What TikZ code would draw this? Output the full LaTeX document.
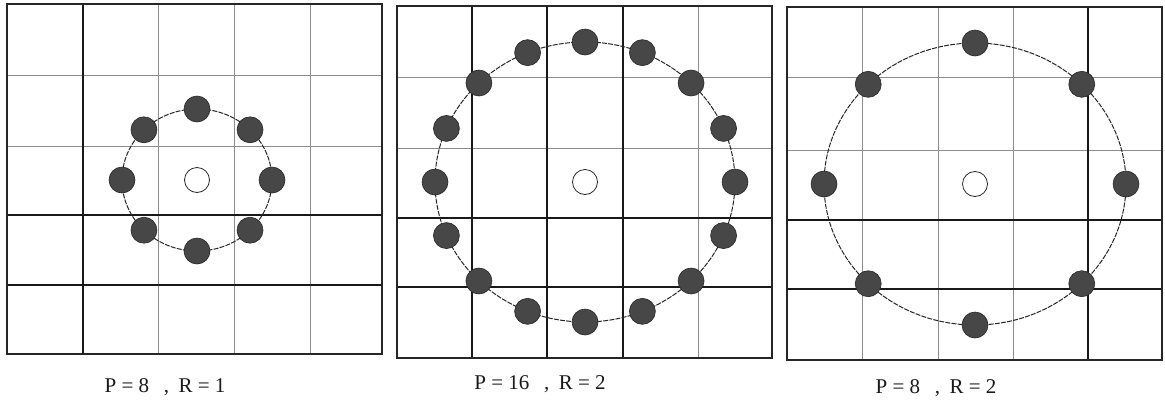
\documentclass[tikz,border=0pt]{standalone}
\usepackage{fontspec}
\setmainfont{Liberation Serif}
\begin{document}
\begin{tikzpicture}[x=1pt,y=-1pt,
  thin grid/.style={draw=black!45,line width=0.7pt},
  bold grid/.style={draw=black!90,line width=1.4pt},
  frame/.style={draw=black!85,line width=1.2pt},
  sample/.style={draw=black!85,line width=1pt,dash pattern=on 5pt off 1.2pt},
  dot/.style={circle,fill=black!72,draw=black!85,line width=0.6pt,minimum size=26pt,inner sep=0pt},
  centre/.style={circle,fill=white,draw=black!85,line width=0.8pt,minimum size=25pt,inner sep=0pt},
  caption/.style={font=\fontsize{21}{24}\selectfont,text=black!90}]
\useasboundingbox (0,0) rectangle (1165,400);
% ---------- panel 1 ----------
\foreach \x in {158,234,310} \draw[thin grid] (\x,4) -- (\x,354);
\foreach \y in {75,146} \draw[thin grid] (7,\y) -- (382,\y);
\draw[bold grid] (83,4) -- (83,354);
\foreach \y in {215,285} \draw[bold grid] (7,\y) -- (382,\y);
\draw[frame] (7,4) rectangle (382,354);
\draw[sample] (197,180) ellipse [x radius=75, y radius=71];
\node[centre] (c1) at (197,180) {};
\foreach \i in {0,...,7}
  \node[dot] (a\i) at ({197+75*cos(45*\i)},{180-71*sin(45*\i)}) {};
\node[caption] (l1) at (165,387) {P = 8\hspace{0.7em},\hspace{0.45em}R = 1};
% ---------- panel 2 ----------
\foreach \x in {698} \draw[thin grid] (\x,6) -- (\x,358);
\foreach \y in {77,148} \draw[thin grid] (397,\y) -- (772,\y);
\foreach \x in {472,547,623} \draw[bold grid] (\x,6) -- (\x,358);
\foreach \y in {218,287} \draw[bold grid] (397,\y) -- (772,\y);
\draw[frame] (397,6) rectangle (772,358);
\draw[sample] (585,182) ellipse [x radius=150, y radius=140];
\node[centre] (c2) at (585,182) {};
\foreach \i in {0,...,15}
  \node[dot] (b\i) at ({585+150*cos(22.5*\i)},{182-140*sin(22.5*\i)}) {};
\node[caption] (l2) at (540,384) {P = 16\hspace{0.7em},\hspace{0.45em}R = 2};
% ---------- panel 3 ----------
\foreach \x in {862,938,1013} \draw[thin grid] (\x,7) -- (\x,360);
\foreach \y in {77,150} \draw[thin grid] (787,\y) -- (1162,\y);
\draw[bold grid] (1088,7) -- (1088,360);
\foreach \y in {220,289} \draw[bold grid] (787,\y) -- (1162,\y);
\draw[frame] (787,7) rectangle (1162,360);
\draw[sample] (975,184) ellipse [x radius=151, y radius=141];
\node[centre] (c3) at (975,184) {};
\foreach \i in {0,...,7}
  \node[dot] (d\i) at ({975+151*cos(45*\i)},{184-141*sin(45*\i)}) {};
\node[caption] (l3) at (936,388) {P = 8\hspace{0.7em},\hspace{0.45em}R = 2};
\end{tikzpicture}
\end{document}
